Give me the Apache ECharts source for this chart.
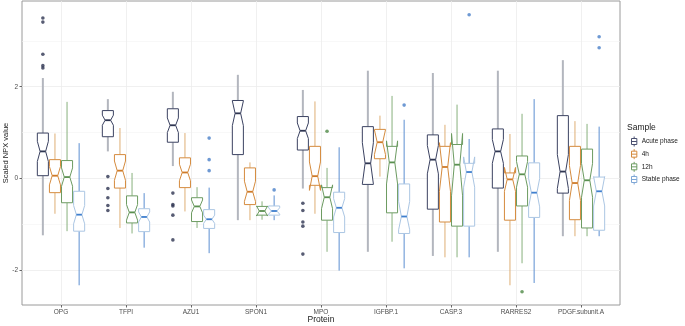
<!DOCTYPE html>
<html>
<head>
<meta charset="utf-8">
<script src="https://cdn.jsdelivr.net/npm/echarts@6/dist/echarts.min.js"></script>
<style>
  html, body { margin: 0; padding: 0; background: #fff; }
  #chart { width: 685px; height: 326px; }
</style>
</head>
<body>
<div id="chart"></div>
<script>
// categories and groups
const proteins = ['OPG', 'TFPI', 'AZU1', 'SPON1', 'MPO', 'IGFBP.1', 'CASP.3', 'RARRES2', 'PDGF.subunit.A']
const samples = ['Acute phase', '4h', '12h', 'Stable phase']

// each row: [lower whisker, Q1, notch low, median, notch high, Q3, upper whisker]
const acuteBox = [
  [-1.24, 0.06, 0.37, 0.59, 0.81, 0.99, 2.19],
  [0.59, 0.91, 1.16, 1.27, 1.38, 1.48, 1.73],
  [0.27, 0.79, 1.00, 1.16, 1.32, 1.52, 1.89],
  [-0.91, 0.52, 1.15, 1.42, 1.69, 1.70, 2.26],
  [-0.22, 0.62, 0.87, 1.04, 1.21, 1.35, 1.93],
  [-1.60, -0.13, -0.12, 0.33, 0.78, 1.13, 2.35],
  [-1.69, -0.67, 0.10, 0.41, 0.72, 0.95, 2.30],
  [-1.60, -0.21, 0.33, 0.59, 0.85, 1.08, 2.35],
  [-1.26, -0.32, -0.22, 0.15, 0.52, 1.37, 2.58],
]
const h4Box = [
  [-0.77, -0.31, -0.14, 0.06, 0.26, 0.41, 0.98],
  [-1.08, -0.21, -0.04, 0.17, 0.38, 0.52, 1.10],
  [-0.72, -0.20, -0.05, 0.13, 0.31, 0.45, 0.99],
  [-0.91, -0.57, -0.50, -0.29, -0.06, 0.23, 0.35],
  [-0.77, -0.15, -0.26, 0.05, 0.36, 0.70, 1.68],
  [0.04, 0.43, 0.52, 0.79, 1.06, 1.07, 1.37],
  [-1.72, -0.95, -0.28, 0.25, 0.78, 0.70, 1.17],
  [-2.33, -0.91, -0.28, -0.02, 0.24, 0.12, 0.97],
  [-1.26, -0.90, -0.48, -0.10, 0.28, 0.70, 1.25],
]
const h12Box = [
  [-1.15, -0.53, -0.17, 0.03, 0.23, 0.39, 1.67],
  [-1.20, -0.97, -0.91, -0.74, -0.57, -0.38, 0.12],
  [-1.08, -0.94, -0.75, -0.61, -0.47, -0.42, -0.19],
  [-0.90, -0.80, -0.82, -0.71, -0.60, -0.61, -0.50],
  [-1.60, -0.91, -0.66, -0.41, -0.14, -0.20, 0.23],
  [-1.38, -0.75, -0.12, 0.35, 0.82, 0.70, 1.80],
  [-1.72, -1.04, -0.38, 0.30, 0.98, 0.74, 1.61],
  [-1.85, -0.60, -0.19, 0.09, 0.37, 0.49, 1.41],
  [-1.26, -1.08, -0.41, -0.04, 0.33, 0.64, 1.19],
]
const stableBox = [
  [-2.33, -1.15, -0.99, -0.79, -0.59, -0.28, 0.77],
  [-1.51, -1.16, -0.95, -0.84, -0.73, -0.66, -0.32],
  [-1.63, -1.09, -0.98, -0.89, -0.80, -0.68, -0.20],
  [-0.91, -0.80, -0.78, -0.71, -0.64, -0.60, -0.37],
  [-2.01, -1.18, -0.84, -0.64, -0.44, -0.30, 0.68],
  [-1.96, -1.20, -1.12, -0.83, -0.50, -0.12, 1.28],
  [-1.72, -1.04, -0.19, 0.14, 0.47, 0.33, 0.86],
  [-2.28, -0.85, -0.62, -0.31, 0.00, 0.34, 1.73],
  [-1.26, -1.13, -0.60, -0.28, 0.04, 0.03, 1.13],
]

// outliers: [protein index, value]
const acuteOut = [
  [0, 3.50], [0, 3.41], [0, 2.71], [0, 2.46], [0, 2.41],
  [1, 0.04], [1, -0.22], [1, -0.42], [1, -0.59], [1, -0.70],
  [2, -0.32], [2, -0.57], [2, -0.60], [2, -0.80], [2, -1.34],
  [4, -0.54], [4, -0.70], [4, -0.95], [4, -1.04], [4, -1.65],
]
const h4Out = []
const h12Out = [[4, 1.03], [7, -2.47]]
const stableOut = [
  [2, 0.88], [2, 0.41], [2, 0.17],
  [3, -0.25], [5, 1.60], [6, 3.57], [8, 3.09], [8, 2.85],
]

const yLabels = [-2, 0, 2]
const yMinor = [-3, -1, 1, 3]

// styles per group
const groups = [
  { box: acuteBox, out: acuteOut, stroke: '#3b4261', median: '#2f3652', whisker: '#b3b6be', wWidth: 2, point: '#2d3350', key: '#4a5070' },
  { box: h4Box, out: h4Out, stroke: '#d58b3e', median: '#cf7a27', whisker: '#dfae74', wWidth: 1, point: '#cf7a27', key: '#d58b3e' },
  { box: h12Box, out: h12Out, stroke: '#6c9b61', median: '#5a9050', whisker: '#88b07c', wWidth: 1, point: '#4f8a46', key: '#6c9b61' },
  { box: stableBox, out: stableOut, stroke: '#abc6e3', median: '#3f7fce', whisker: '#5c8fd1', wWidth: 1, point: '#4a80c8', key: '#7fa7d6' },
]

const dodge = 0.186
const boxWidth = 0.17

const makeRender = (g) => (params, api) => {
  const x = api.value(0)
  const lo = api.value(1), q1 = api.value(2), nl = api.value(3), md = api.value(4)
  const nh = api.value(5), q3 = api.value(6), hi = api.value(7)
  const xl = x - boxWidth / 2
  const xr = x + boxWidth / 2
  const inset = boxWidth / 4
  const c = (a, b) => api.coord([a, b])
  const poly = [
    c(xl, q3), c(xl, nh), c(xl + inset, md), c(xl, nl), c(xl, q1),
    c(xr, q1), c(xr, nl), c(xr - inset, md), c(xr, nh), c(xr, q3),
  ]
  const top = c(x, hi), up = c(x, q3), dn = c(x, q1), bot = c(x, lo)
  const m1 = c(xl + inset, md), m2 = c(xr - inset, md)
  return {
    type: 'group',
    children: [
      { type: 'line', shape: { x1: top[0], y1: top[1], x2: up[0], y2: up[1] }, style: { stroke: g.whisker, lineWidth: g.wWidth } },
      { type: 'line', shape: { x1: dn[0], y1: dn[1], x2: bot[0], y2: bot[1] }, style: { stroke: g.whisker, lineWidth: g.wWidth } },
      { type: 'polygon', shape: { points: poly }, style: { fill: '#fff', stroke: g.stroke, lineWidth: 1 } },
      { type: 'line', shape: { x1: m1[0], y1: m1[1], x2: m2[0], y2: m2[1] }, style: { stroke: g.median, lineWidth: 1.8 } },
    ],
  }
}

const series = []
groups.forEach((g, gi) => {
  const off = (gi - 1.5) * dodge
  series.push({
    name: samples[gi],
    type: 'custom',
    renderItem: makeRender(g),
    itemStyle: { color: g.stroke },
    encode: { x: 0, y: [1, 2, 3, 4, 5, 6, 7] },
    data: g.box.map((r, i) => [i + off, ...r]),
    z: 2 + gi,
  })
  series.push({
    name: samples[gi],
    type: 'scatter',
    symbolSize: 3.6,
    itemStyle: { color: g.point },
    data: g.out.map((d) => [d[0] + off, d[1]]),
    z: 10,
  })
})

const boxIcon = 'path://M5,0V3M1,3H9V12H1ZM1,7.5H9M5,12V15'

const chart = echarts.init(document.getElementById('chart'))
chart.setOption({
  animation: false,
  backgroundColor: '#fff',
  textStyle: { fontFamily: 'Liberation Sans' },
  title: {
    text: 'Sample',
    left: 627,
    top: 123,
    padding: 0,
    textStyle: { fontSize: 8.5, fontWeight: 'normal', color: '#1a1a1a', fontFamily: 'Liberation Sans' },
  },
  legend: {
    orient: 'vertical',
    left: 631,
    top: 136,
    padding: 0,
    itemWidth: 9,
    itemHeight: 10,
    itemGap: 1.67,
    textStyle: { fontSize: 6.5, color: '#1a1a1a', fontFamily: 'Liberation Sans', padding: [0, 0, 0, -2] },
    data: samples.map((s, i) => ({
      name: s,
      icon: boxIcon,
      itemStyle: { color: '#fff', borderColor: groups[i].key, borderWidth: 1 },
    })),
  },
  grid: {
    left: 22, right: 65, top: 1, bottom: 21,
    outerBoundsMode: 'none',
    containLabel: false,
    show: true,
    borderColor: '#9a9a9a',
    borderWidth: 1,
    backgroundColor: '#fff',
  },
  xAxis: {
    type: 'value',
    min: -0.6,
    max: 8.6,
    name: 'Protein',
    nameLocation: 'middle',
    nameGap: 10,
    nameMoveOverlap: false,
    nameTextStyle: { fontSize: 8.5, color: '#1a1a1a' },
    axisLine: { show: false, onZero: false },
    axisTick: { show: true, length: 2.5, lineStyle: { color: '#666' }, customValues: proteins.map((p, i) => i) },
    axisLabel: {
      fontSize: 6.5, color: '#4d4d4d', margin: 4,
      customValues: proteins.map((p, i) => i),
      formatter: (v) => proteins[Math.round(v)],
    },
    splitLine: { show: true, lineStyle: { color: '#ececec', width: 0.8 } },
  },
  yAxis: [
    {
      type: 'value',
      min: -2.76,
      max: 3.87,
      name: 'Scaled NPX value',
      nameLocation: 'middle',
      nameGap: 12,
      nameMoveOverlap: false,
      nameTextStyle: { fontSize: 7.5, color: '#1a1a1a' },
      axisLine: { show: false, onZero: false },
      axisTick: { show: true, length: 2.5, lineStyle: { color: '#666' }, customValues: yLabels },
      axisLabel: { fontSize: 6.5, color: '#4d4d4d', margin: 4, customValues: yLabels },
      splitLine: { show: true, lineStyle: { color: '#ececec', width: 0.8 } },
    },
    {
      type: 'value',
      min: -2.76,
      max: 3.87,
      position: 'left',
      offset: 0,
      axisLine: { show: false, onZero: false },
      axisTick: { show: false, customValues: yMinor },
      axisLabel: { show: false, customValues: yMinor },
      splitLine: { show: true, lineStyle: { color: '#f3f3f3', width: 0.6 } },
    },
  ],
  series,
})
</script>
</body>
</html>
